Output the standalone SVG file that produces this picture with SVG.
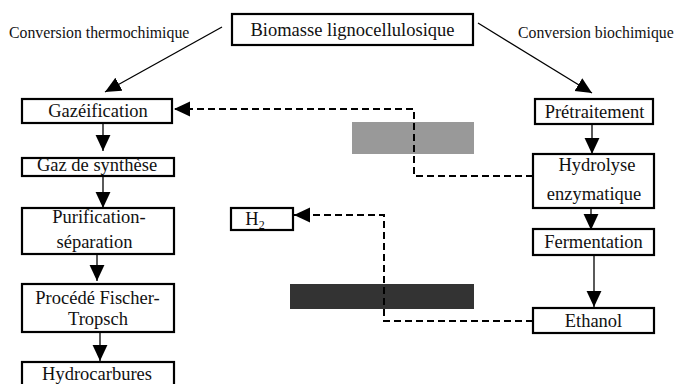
<svg xmlns="http://www.w3.org/2000/svg" width="676" height="384" viewBox="0 0 676 384">
<style>
.box{fill:#fff;stroke:#000;stroke-width:2.2}
.t{font-family:"Liberation Serif","Times New Roman",serif;font-size:18.5px;fill:#111;text-anchor:middle}
.lbl{font-family:"Liberation Serif","Times New Roman",serif;font-size:15.8px;fill:#111}
.ln{fill:none;stroke:#000;stroke-width:1.3}
.dash{fill:none;stroke:#000;stroke-width:2;stroke-dasharray:7 4}
</style>
<defs>
<marker id="ah" markerUnits="userSpaceOnUse" markerWidth="16" markerHeight="16" viewBox="0 0 14 13" refX="14" refY="6.5" orient="auto">
<path d="M0,0 L14,6.5 L0,13 z" fill="#000"/>
</marker>
</defs>
<rect x="352" y="122" width="122" height="32" fill="#999"/>
<rect x="290" y="284" width="184" height="25" fill="#333"/>
<g id="connectors">
<path class="ln" d="M222,27 L105,92" marker-end="url(#ah)"/>
<path class="ln" d="M478,23 L592,93" marker-end="url(#ah)"/>
<path class="ln" d="M103,124 V151" marker-end="url(#ah)"/>
<path class="ln" d="M103,176 V208" marker-end="url(#ah)"/>
<path class="ln" d="M97,254 V281" marker-end="url(#ah)"/>
<path class="ln" d="M100,332 V361" marker-end="url(#ah)"/>
<path class="ln" d="M592,124 V154" marker-end="url(#ah)"/>
<path class="ln" d="M591,205 V230" marker-end="url(#ah)"/>
<path class="ln" d="M594,255 V307" marker-end="url(#ah)"/>
<path class="dash" d="M533,176 H414 V109 H174" marker-end="url(#ah)"/>
<path class="dash" d="M533,321 H384 V215 H294" marker-end="url(#ah)"/>
</g>
<g id="biomasse"><rect class="box" x="232" y="14" width="241" height="31"/><text class="t" x="352.5" y="36">Biomasse lignocellulosique</text></g>
<g id="label-thermo"><text class="lbl" x="9" y="38">Conversion thermochimique</text></g>
<g id="label-bio"><text class="lbl" x="518" y="38">Conversion biochimique</text></g>
<g id="gazeification"><rect class="box" x="22" y="99" width="150" height="24"/><text class="t" x="98" y="117">Gazéification</text></g>
<g id="gaz-synthese"><rect class="box" x="22" y="158" width="152" height="18"/><text class="t" x="97" y="170.5">Gaz de synthèse</text></g>
<g id="purification"><rect class="box" x="22" y="208" width="152" height="46"/><text class="t" x="99" y="223">Purification-</text><text class="t" x="94.5" y="248">séparation</text></g>
<g id="fischer"><rect class="box" x="22" y="284" width="152" height="48"/><text class="t" x="97.5" y="304">Procédé Fischer-</text><text class="t" x="98" y="325">Tropsch</text></g>
<g id="hydrocarbures"><rect class="box" x="22" y="362" width="152" height="30"/><text class="t" x="97" y="380">Hydrocarbures</text></g>
<g id="h2"><rect class="box" x="231" y="208" width="62" height="22"/><text class="t" x="255" y="225">H<tspan font-size="12" dy="4">2</tspan></text></g>
<g id="pretraitement"><rect class="box" x="535" y="99" width="118" height="25"/><text class="t" x="594.5" y="118">Prétraitement</text></g>
<g id="hydrolyse"><rect class="box" x="533" y="154" width="121" height="54"/><text class="t" x="597" y="170.5">Hydrolyse</text><text class="t" x="594" y="200">enzymatique</text></g>
<g id="fermentation"><rect class="box" x="533" y="229" width="121" height="26"/><text class="t" x="593.5" y="248">Fermentation</text></g>
<g id="ethanol"><rect class="box" x="533" y="308" width="121" height="25"/><text class="t" x="593.5" y="326.5">Ethanol</text></g>
</svg>
